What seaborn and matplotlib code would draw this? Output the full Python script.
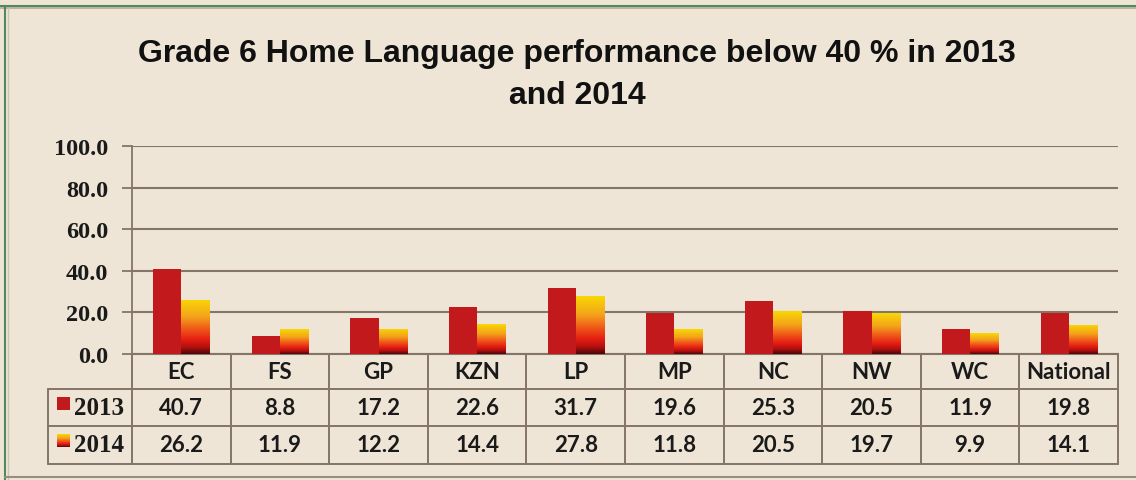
import numpy as np
import pandas as pd
import matplotlib
matplotlib.use("Agg")
import matplotlib.pyplot as plt
from matplotlib.colors import LinearSegmentedColormap
from matplotlib.lines import Line2D
import seaborn as sns

# ---- data ----
categories = ["EC", "FS", "GP", "KZN", "LP", "MP", "NC", "NW", "WC", "National"]
values_2013 = [40.7, 8.8, 17.2, 22.6, 31.7, 19.6, 25.3, 20.5, 11.9, 19.8]
values_2014 = [26.2, 11.9, 12.2, 14.4, 27.8, 11.8, 20.5, 19.7, 9.9, 14.1]
series_names = ["2013", "2014"]
yticks = [0, 20, 40, 60, 80, 100]
title = "Grade 6 Home Language performance below 40 % in 2013\nand 2014"

df = pd.DataFrame({
    "cat": categories * 2,
    "year": [series_names[0]] * len(categories) + [series_names[1]] * len(categories),
    "val": values_2013 + values_2014,
})

BG = "#EEE5D6"
RED13 = "#C2191D"
GRID = "#857468"
grad_cmap = LinearSegmentedColormap.from_list(
    "g14", [(0.0, "#4A0608"), (0.12, "#B0100F"), (0.25, "#E41C12"),
            (0.45, "#F0561A"), (0.68, "#F4A31A"), (1.0, "#F8D805")])

sns.set_theme(style="white")
W, H = 1136, 481
fig = plt.figure(figsize=(W / 100, H / 100), dpi=100, facecolor=BG)
ax_l, ax_r, ax_t, ax_b = 132, 1118, 147, 355
ax = fig.add_axes([ax_l / W, 1 - ax_b / H, (ax_r - ax_l) / W, (ax_b - ax_t) / H])
ax.set_facecolor(BG)
ax.set_axisbelow(True)

sns.barplot(data=df, x="cat", y="val", hue="year", order=categories,
            hue_order=series_names, palette=[RED13, "#E41C12"],
            width=0.57, dodge=True, gap=0, saturation=1, linewidth=0,
            legend=False, ax=ax, zorder=3)

ax.set_xlim(-0.5, len(categories) - 0.5)
ax.set_ylim(0, 100)

# gradient fill for 2014 bars
grad = np.linspace(0, 1, 256).reshape(-1, 1)
for p in ax.containers[1]:
    x0, y0 = p.get_x(), p.get_y()
    w, h = p.get_width(), p.get_height()
    im = ax.imshow(grad, cmap=grad_cmap, origin="lower", aspect="auto",
                   extent=(x0, x0 + w, y0, y0 + h), zorder=4)
    im.set_clip_path(p)
ax.set_xlim(-0.5, len(categories) - 0.5)
ax.set_ylim(0, 100)

# axes styling
ax.set_yticks(yticks)
ax.set_yticklabels([f"{v:.1f}" for v in yticks], family="Liberation Serif",
                   fontweight="bold", fontsize=17.5, color="#1a1a1a")
ax.tick_params(axis="y", direction="out", length=7, width=1.3, color=GRID, pad=10, left=True)
ax.tick_params(axis="x", bottom=False, labelbottom=False)
ax.set_xlabel("")
ax.set_ylabel("")
ax.grid(axis="y", color=GRID, linewidth=1.5)
ax.grid(axis="x", visible=False)
for s in ["top", "right"]:
    ax.spines[s].set_visible(False)
ax.spines["left"].set_color(GRID)
ax.spines["left"].set_linewidth(1.3)
ax.spines["bottom"].set_color(GRID)
ax.spines["bottom"].set_linewidth(1.5)

# ---- data table under the plot (data coords: y in same units as axis) ----
def ydat(py):
    return (ax_b - py) / (ax_b - ax_t) * 100

colw = (ax_r - ax_l) / len(categories)
def xdat(px):
    return (px - ax_l) / colw - 0.5

tbl_left = xdat(48)
y_hdr_top, y_r1_top, y_r2_top, y_bot = ydat(355), ydat(390), ydat(427), ydat(465)
n = len(categories)
lkw = dict(color=GRID, linewidth=1.4, clip_on=False, zorder=5)
ax.plot([tbl_left, n - 0.5], [y_r1_top] * 2, **lkw)
ax.plot([tbl_left, n - 0.5], [y_r2_top] * 2, **lkw)
ax.plot([tbl_left, n - 0.5], [y_bot] * 2, **lkw)
ax.plot([tbl_left] * 2, [y_r1_top, y_bot], **lkw)
for i in range(n + 1):
    ax.plot([i - 0.5] * 2, [y_hdr_top, y_bot], **lkw)

cell_font = dict(family="Lato", fontweight="bold", fontsize=16, color="#1a1a1a",
                 ha="center", va="center", clip_on=False)
for i, c in enumerate(categories):
    ax.text(i, (y_hdr_top + y_r1_top) / 2, c, **cell_font)
    ax.text(i, (y_r1_top + y_r2_top) / 2, f"{values_2013[i]:.1f}", **cell_font)
    ax.text(i, (y_r2_top + y_bot) / 2, f"{values_2014[i]:.1f}", **cell_font)

# legend keys in the table
kx0, kx1 = xdat(57), xdat(70)
ax.fill_between([kx0, kx1], ydat(411), ydat(398), color=RED13, clip_on=False, zorder=6, linewidth=0)
key_img = ax.imshow(grad, cmap=grad_cmap, origin="lower", aspect="auto",
                    extent=(kx0, kx1, ydat(448), ydat(435)), zorder=6)
key_img.set_clip_on(False)
ax.set_xlim(-0.5, n - 0.5)
ax.set_ylim(0, 100)
leg_font = dict(family="Liberation Serif", fontweight="bold", fontsize=18,
                color="#1a1a1a", ha="left", va="center", clip_on=False)
ax.text(xdat(74), (y_r1_top + y_r2_top) / 2, series_names[0], **leg_font)
ax.text(xdat(74), (y_r2_top + y_bot) / 2, series_names[1], **leg_font)

# title
fig.text(577 / W, 1 - 75 / H, title, ha="center", va="center", family="Liberation Sans",
         fontweight="bold", fontsize=23, linespacing=1.5, color="#111111")

# outer frame
fig.add_artist(Line2D([0, 1], [1 - 7 / H] * 2, color="#4E8A5C", linewidth=1.5, transform=fig.transFigure))
fig.add_artist(Line2D([0, 1], [1 - 9 / H] * 2, color="#B8A89C", linewidth=1.2, transform=fig.transFigure))
fig.add_artist(Line2D([5 / W] * 2, [0, 1 - 7 / H], color="#4E8A5C", linewidth=1.5, transform=fig.transFigure))
fig.add_artist(Line2D([8 / W] * 2, [0, 1 - 9 / H], color="#CFC3B5", linewidth=1.0, transform=fig.transFigure))
fig.add_artist(Line2D([5 / W, 1], [1 - 478 / H] * 2, color="#9A8C82", linewidth=1.5, transform=fig.transFigure))

fig.savefig("out.png", dpi=100, facecolor=BG)
